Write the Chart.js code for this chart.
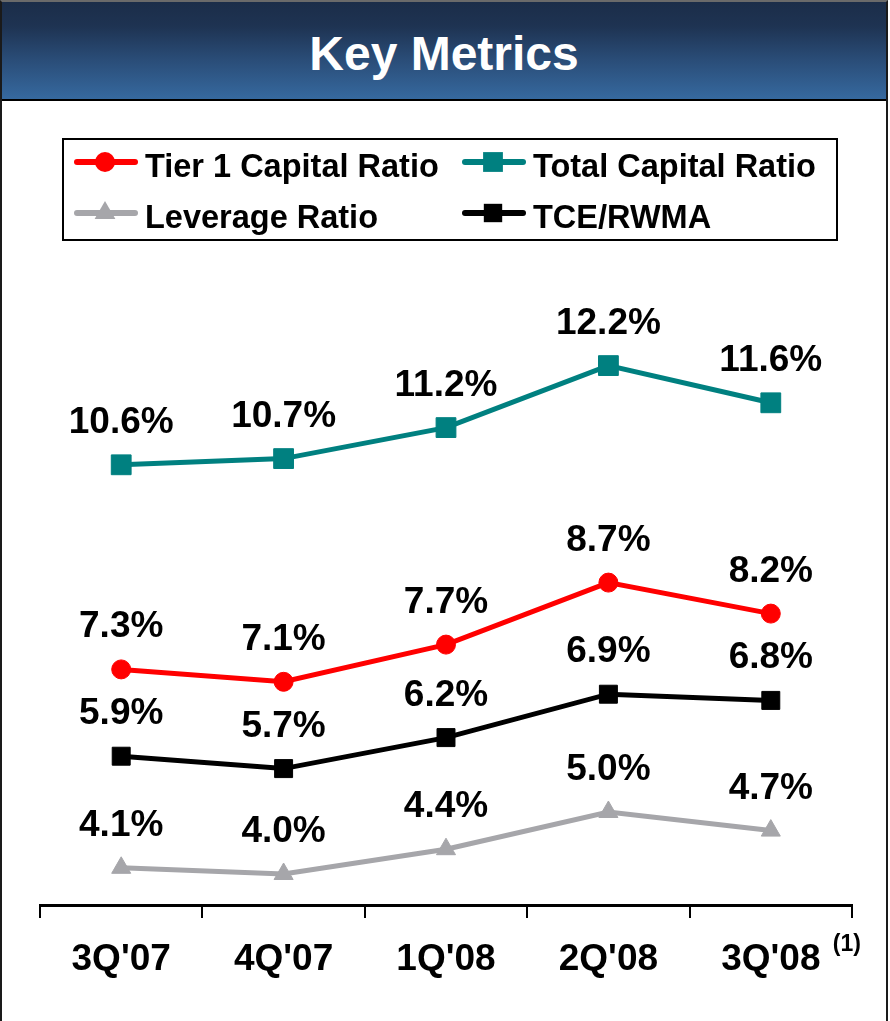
<!DOCTYPE html>
<html><head><meta charset="utf-8">
<script src="https://cdn.jsdelivr.net/npm/chart.js@4.4.1/dist/chart.umd.min.js"></script>
<style>
html,body{margin:0;padding:0;background:#fff;width:890px;height:1021px;overflow:hidden;}
#frame{position:absolute;left:0;top:0;width:888px;height:1040px;box-sizing:border-box;border:2px solid #1a1a1a;border-top-color:#6a6a6a;}
#header{position:absolute;left:2px;top:2px;width:884px;height:97px;background:linear-gradient(to bottom,#1b2d49 0%,#1e3352 25%,#2a4d78 60%,#36699f 100%);border-bottom:2px solid #000;text-align:center;color:#fff;font-family:"Liberation Sans",Arial,sans-serif;font-weight:bold;font-size:48px;line-height:104px;}
#wrap{position:absolute;left:0;top:102px;width:890px;height:919px;}
</style></head><body>
<div id="frame"></div>
<div id="header">Key Metrics</div>
<div id="wrap"><canvas id="c"></canvas></div>
<script>
const categories = ["3Q'07", "4Q'07", "1Q'08", "2Q'08", "3Q'08"];
const tier1Capital = [7.3, 7.1, 7.7, 8.7, 8.2];
const totalCapital = [10.6, 10.7, 11.2, 12.2, 11.6];
const leverageRatio = [4.1, 4.0, 4.4, 5.0, 4.7];
const tceRwma = [5.9, 5.7, 6.2, 6.9, 6.8];
const seriesNames = ["Tier 1 Capital Ratio", "Total Capital Ratio", "Leverage Ratio", "TCE/RWMA"];
const footnoteMark = "(1)";

const FONT = '"Liberation Sans", Arial, sans-serif';

function shape(ctx, style, r, x, y) {
  ctx.beginPath();
  if (style === 'circle') {
    ctx.arc(x, y, r, 0, Math.PI * 2);
  } else if (style === 'rect') {
    const s = r * Math.SQRT1_2;
    ctx.rect(x - s, y - s, 2 * s, 2 * s);
  } else if (style === 'triangle') {
    let a = 0;
    ctx.moveTo(x + Math.sin(a) * r, y - Math.cos(a) * r);
    a += 2 * Math.PI / 3;
    ctx.lineTo(x + Math.sin(a) * r, y - Math.cos(a) * r);
    a += 2 * Math.PI / 3;
    ctx.lineTo(x + Math.sin(a) * r, y - Math.cos(a) * r);
    ctx.closePath();
  }
  ctx.fill();
}

const legendPlugin = {
  id: 'customLegend',
  afterDraw(chart) {
    const ctx = chart.ctx;
    ctx.save();
    ctx.lineWidth = 2;
    ctx.strokeStyle = '#000';
    ctx.strokeRect(63, 37, 774, 101);
    const slots = [[75, 60], [463, 60], [75, 111], [463, 111]];
    chart.data.datasets.forEach((ds, i) => {
      const [x, y] = slots[i];
      ctx.strokeStyle = ds.borderColor;
      ctx.fillStyle = ds.borderColor;
      ctx.lineWidth = 6;
      ctx.lineCap = 'round';
      ctx.beginPath();
      ctx.moveTo(x + 2, y);
      ctx.lineTo(x + 60, y);
      ctx.stroke();
      shape(ctx, ds.pointStyle, ds.legendMarker, x + 30, y);
      ctx.fillStyle = '#000';
      ctx.font = 'bold 32.5px ' + FONT;
      ctx.textAlign = 'left';
      ctx.textBaseline = 'alphabetic';
      ctx.fillText(ds.label, x + 70, y + 15);
    });
    // footnote marker next to last category
    const xs = chart.scales.x;
    ctx.font = 'bold 23px ' + FONT;
    ctx.fillStyle = '#000';
    ctx.textAlign = 'left';
    ctx.fillText(footnoteMark, xs.getPixelForValue(categories.length - 1) + 62, 849);
    ctx.restore();
  }
};

const labelPlugin = {
  id: 'valueLabels',
  afterDatasetsDraw(chart) {
    const ctx = chart.ctx;
    ctx.save();
    ctx.font = 'bold 37px ' + FONT;
    ctx.fillStyle = '#000';
    ctx.textAlign = 'center';
    ctx.textBaseline = 'alphabetic';
    chart.data.datasets.forEach((ds, i) => {
      const meta = chart.getDatasetMeta(i);
      meta.data.forEach((pt, j) => {
        ctx.fillText(ds.data[j].toFixed(1) + '%', pt.x, pt.y - 32);
      });
    });
    ctx.restore();
  }
};

function series(label, data, color, style, radius, legendMarker) {
  return {
    label, data,
    borderColor: color, backgroundColor: color,
    borderWidth: 5, tension: 0,
    pointStyle: style, pointRadius: radius,
    pointBackgroundColor: color, pointBorderColor: color, pointBorderWidth: 1,
    legendMarker
  };
}

new Chart(document.getElementById('c'), {
  type: 'line',
  data: {
    labels: categories,
    datasets: [
      series(seriesNames[0], tier1Capital, '#ff0000', 'circle', 9.5, 10),
      series(seriesNames[1], totalCapital, '#008080', 'rect', 14, 14),
      series(seriesNames[2], leverageRatio, '#a6a6aa', 'triangle', 11, 12),
      series(seriesNames[3], tceRwma, '#000000', 'rect', 12.7, 13)
    ]
  },
  options: {
    responsive: true,
    maintainAspectRatio: false,
    animation: false,
    layout: { padding: { left: 40, right: 38, top: 152, bottom: 0 } },
    plugins: { legend: { display: false }, tooltip: { enabled: false }, title: { display: false } },
    scales: {
      x: {
        offset: true,
        grid: { offset: true, drawOnChartArea: false, drawTicks: true, tickLength: 13, color: '#000', lineWidth: 2 },
        border: { display: true, color: '#000', width: 3 },
        ticks: { color: '#000', font: { family: FONT, size: 37, weight: 'bold' }, padding: 20, maxRotation: 0, autoSkip: false },
        afterFit(s) { s.height = 116; }
      },
      y: { display: false, min: 3.5, max: 14 }
    }
  },
  plugins: [labelPlugin, legendPlugin]
});
</script>
</body></html>
